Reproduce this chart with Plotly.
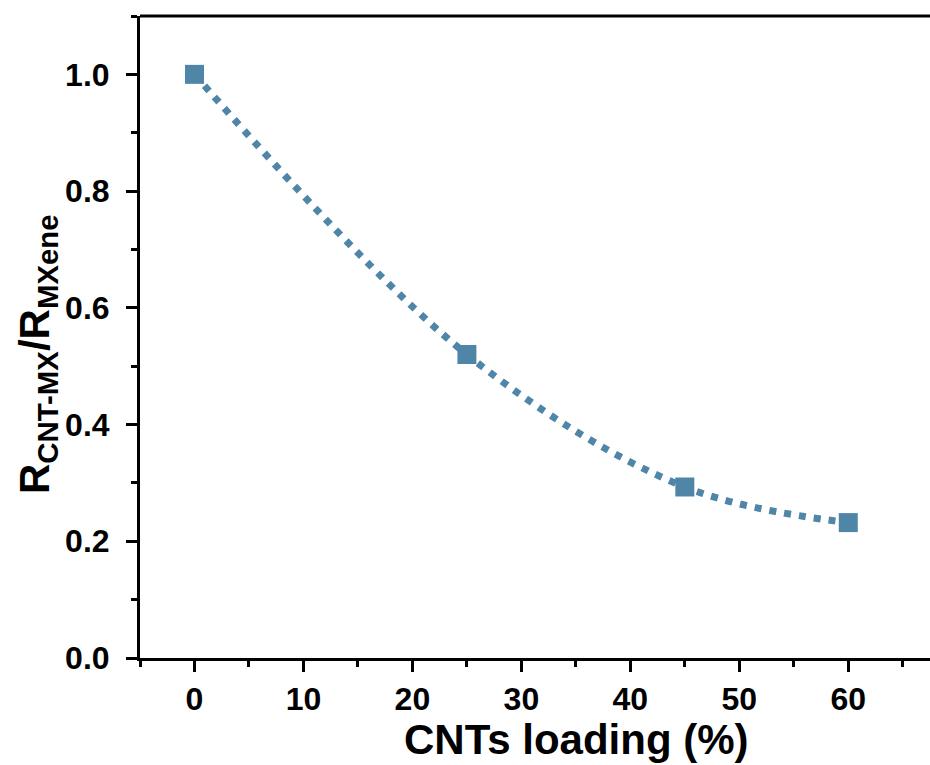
import plotly.graph_objects as go

x_loading = [0, 25, 45, 60]
ratio = [1.0, 0.52, 0.293, 0.232]
x_ticks = [0, 10, 20, 30, 40, 50, 60]
y_ticks = [0.0, 0.2, 0.4, 0.6, 0.8, 1.0]

color = "#4F86A8"
font_family = "Arial, 'Liberation Sans', sans-serif"

fig = go.Figure()
fig.add_trace(go.Scatter(
    x=x_loading, y=ratio, mode="lines+markers",
    line=dict(color=color, width=7, dash="7px,8px", shape="spline", smoothing=1),
    marker=dict(symbol="square", size=19, color=color),
    showlegend=False, cliponaxis=False,
))

axis_common = dict(
    showline=True, linecolor="black", linewidth=3,
    ticks="outside", ticklen=11, tickwidth=3, tickcolor="black",
    showgrid=False, zeroline=False,
    tickfont=dict(family=font_family, size=32, color="black", weight="bold"),
)

fig.update_layout(
    width=930, height=765,
    margin=dict(l=140, r=0, t=16, b=107),
    plot_bgcolor="white", paper_bgcolor="white",
    xaxis=dict(
        range=[-5, 67.5], tickvals=x_ticks, ticktext=[str(v) for v in x_ticks],
        ticklabelstandoff=0,
        minor=dict(ticks="outside", dtick=5, tick0=0, ticklen=6, tickwidth=3, tickcolor="black"),
        **axis_common,
    ),
    yaxis=dict(
        range=[0, 1.1], tickvals=y_ticks, ticktext=[f"{v:.1f}" for v in y_ticks],
        ticklabelstandoff=10,
        minor=dict(ticks="outside", dtick=0.1, tick0=0, ticklen=6, tickwidth=3, tickcolor="black"),
        **axis_common,
    ),
    shapes=[dict(type="line", xref="paper", yref="paper", x0=0, x1=1.05, y0=1, y1=1,
                 line=dict(color="black", width=3))],
    annotations=[
        dict(text="<b>CNTs loading (%)</b>", xref="paper", yref="paper",
             x=0.552, y=-0.127, xanchor="center", yanchor="middle", showarrow=False,
             font=dict(family=font_family, size=42, color="black")),
        dict(text="<b>R<sub>CNT-MX</sub>/R<sub>MXene</sub></b>", xref="paper", yref="paper",
             x=-0.1304, y=0.4734, xanchor="center", yanchor="middle", showarrow=False,
             textangle=-90, font=dict(family=font_family, size=42, color="black")),
    ],
)

fig.write_html("out.html")
